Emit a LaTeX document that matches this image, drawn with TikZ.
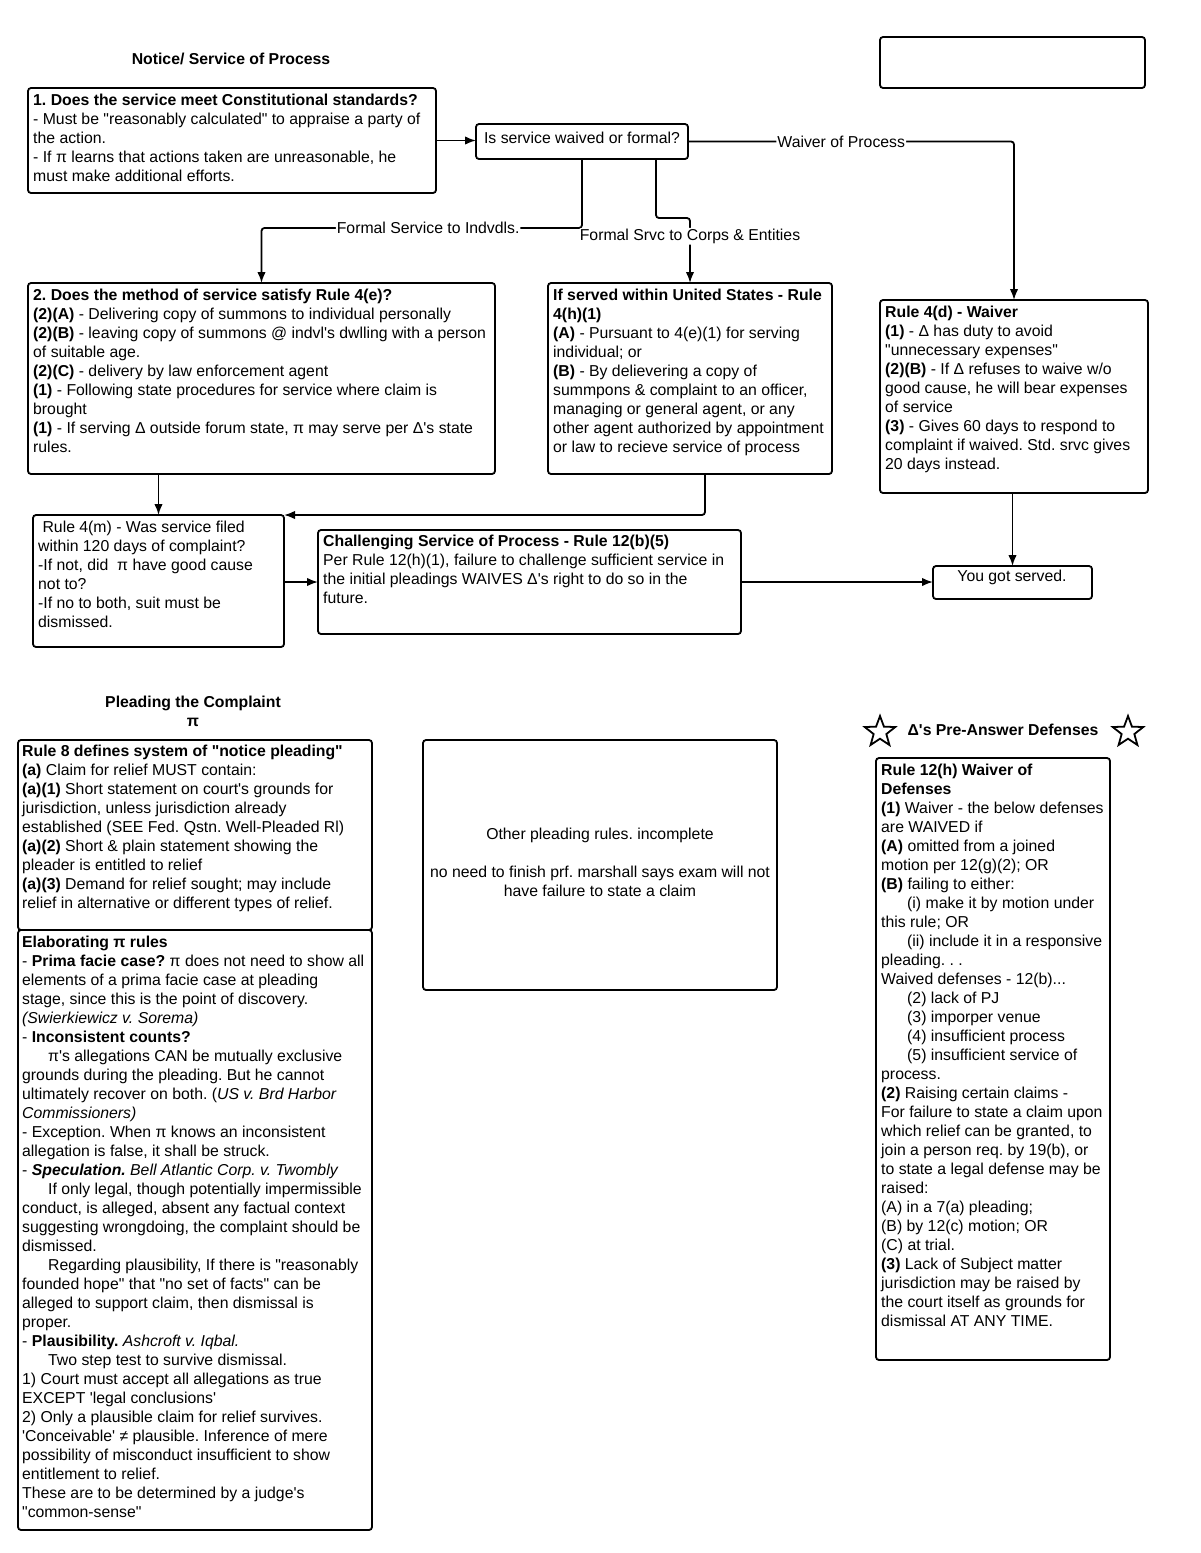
\documentclass[tikz,border=0pt]{standalone}
\usepackage{fontspec}
\setmainfont{Liberation Sans}[Ligatures=TeXOff]
\usetikzlibrary{arrows.meta,shapes.geometric}
\newcommand{\ind}{\hspace*{26pt}}
\newcommand{\fs}{\fontsize{15.8}{19}\selectfont\frenchspacing}
\begin{document}
\begin{tikzpicture}[x=1pt,y=-1pt,
  box/.style={draw,line width=1.8pt,rounded corners=3pt,anchor=north west,inner sep=0pt,outer sep=0pt},
  txt/.style={anchor=north west,align=left,inner sep=0pt,font=\fs},
  ctxt/.style={align=center,inner sep=0pt,font=\fs},
  lbl/.style={fill=white,inner sep=1pt,font=\fs},
  conn/.style={line width=1.8pt,rounded corners=3pt},
  arr/.style={conn,-{Latex[length=11pt,width=8.5pt]}},
  starshape/.style={star,star points=5,star point ratio=2.4,draw,line width=1.8pt,minimum size=32pt,inner sep=0pt}
]
\useasboundingbox (0,0) rectangle (1200,1553);

% ---------- titles ----------
\node[ctxt,font=\fs\bfseries] (t1) at (231,59) {Notice/ Service of Process};
\node[box,minimum width=265pt,minimum height=51pt] (empty) at (880,37) {};

% ---------- boxes ----------
\node[box,minimum width=408pt,minimum height=105pt] (b1) at (28,88) {};
\node[txt] at ([shift={(5,6)}]b1.north west) {\textbf{1. Does the service meet Constitutional standards?}\\
- Must be "reasonably calculated" to appraise a party of\\
the action.\\
- If π learns that actions taken are unreasonable, he\\
must make additional efforts.};

\node[box,minimum width=212pt,minimum height=35pt] (dec) at (476,124) {};
\node[ctxt] at ([yshift=4pt]dec.center) {Is service waived or formal?};

\node[box,minimum width=467pt,minimum height=191pt] (b2) at (28,283) {};
\node[txt] at ([shift={(5,6)}]b2.north west) {\textbf{2. Does the method of service satisfy Rule 4(e)?}\\
\textbf{(2)(A)} - Delivering copy of summons to individual personally\\
\textbf{(2)(B)} - leaving copy of summons @ indvl's dwlling with a person\\
of suitable age.\\
\textbf{(2)(C)} - delivery by law enforcement agent\\
\textbf{(1)} - Following state procedures for service where claim is\\
brought\\
\textbf{(1)} - If serving Δ outside forum state, π may serve per Δ's state\\
rules.};

\node[box,minimum width=284pt,minimum height=191pt] (b3) at (548,283) {};
\node[txt] at ([shift={(5,6)}]b3.north west) {\textbf{If served within United States - Rule}\\
\textbf{4(h)(1)}\\
\textbf{(A)} - Pursuant to 4(e)(1) for serving\\
individual; or\\
\textbf{(B)} - By delievering a copy of\\
summpons \& complaint to an officer,\\
managing or general agent, or any\\
other agent authorized by appointment\\
or law to recieve service of process};

\node[box,minimum width=268pt,minimum height=193pt] (b4) at (880,300) {};
\node[txt] at ([shift={(5,6)}]b4.north west) {\textbf{Rule 4(d) - Waiver}\\
\textbf{(1)} - Δ has duty to avoid\\
"unnecessary expenses"\\
\textbf{(2)(B)} - If Δ refuses to waive w/o\\
good cause, he will bear expenses\\
of service\\
\textbf{(3)} - Gives 60 days to respond to\\
complaint if waived. Std. srvc gives\\
20 days instead.};

\node[box,minimum width=251pt,minimum height=132pt] (b4m) at (33,515) {};
\node[txt] at ([shift={(5,6)}]b4m.north west) {\ Rule 4(m) - Was service filed\\
within 120 days of complaint?\\
-If not, did \ π have good cause\\
not to?\\
-If no to both, suit must be\\
dismissed.};

\node[box,minimum width=423pt,minimum height=104pt] (chal) at (318,530) {};
\node[txt] at ([shift={(5,5)}]chal.north west) {\textbf{Challenging Service of Process - Rule 12(b)(5)}\\
Per Rule 12(h)(1), failure to challenge sufficient service in\\
the initial pleadings WAIVES Δ's right to do so in the\\
future.};

\node[box,minimum width=159pt,minimum height=33pt] (served) at (933,566) {};
\node[ctxt] at (1012,577) {You got served.};

% ---------- connectors (top) ----------
\draw[arr] (b1.east) -- (b1.east -| dec.west);
\draw[arr] (dec.east) -- node[lbl,pos=0.47]{Waiver of Process} (dec.east -| b4.north) -- (b4.north);
\coordinate (j1) at (582,228);
\draw[arr] (dec.south) -- (dec.south |- j1) -- node[lbl,pos=0.48]{Formal Service to Indvdls.} (j1 -| b2.north) -- (b2.north);
\coordinate (j2) at (656,218);
\draw[arr] ([xshift=74pt]dec.south) -- (j2) -- (j2 -| b3.north) -- node[lbl,pos=0.28]{Formal Srvc to Corps \& Entities} (b3.north);
\draw[arr] (b2.south -| b4m.north) -- (b4m.north);
\draw[arr] ([xshift=15pt]b3.south) |- (b4m.north east);
\draw[arr] (b4m.east |- chal.west) -- (chal.west);
\draw[arr] (chal.east) -- (chal.east -| served.west);
\draw[arr] (b4.south -| served.north) -- (served.north);

% ---------- lower left ----------
\node[ctxt,font=\fs\bfseries] (t2) at (193,711) {Pleading the Complaint\\π};

\node[box,minimum width=354pt,minimum height=190pt] (r8) at (18,740) {};
\node[txt] at ([shift={(4,5)}]r8.north west) {\textbf{Rule 8 defines system of "notice pleading"}\\
\textbf{(a)} Claim for relief MUST contain:\\
\textbf{(a)(1)} Short statement on court's grounds for\\
jurisdiction, unless jurisdiction already\\
established (SEE Fed. Qstn. Well-Pleaded Rl)\\
\textbf{(a)(2)} Short \& plain statement showing the\\
pleader is entitled to relief\\
\textbf{(a)(3)} Demand for relief sought; may include\\
relief in alternative or different types of relief.};

\node[box,minimum width=354pt,minimum height=600pt] (elab) at (18,930) {};
\node[txt] at ([shift={(4,6)}]elab.north west) {\textbf{Elaborating π rules}\\
- \textbf{Prima facie case?} π does not need to show all\\
elements of a prima facie case at pleading\\
stage, since this is the point of discovery.\\
\textit{(Swierkiewicz v. Sorema)}\\
- \textbf{Inconsistent counts?}\\
\ind π's allegations CAN be mutually exclusive\\
grounds during the pleading. But he cannot\\
ultimately recover on both. (\textit{US v. Brd Harbor}\\
\textit{Commissioners)}\\
- Exception. When π knows an inconsistent\\
allegation is false, it shall be struck.\\
- \textbf{\textit{Speculation.}} \textit{Bell Atlantic Corp. v. Twombly}\\
\ind If only legal, though potentially impermissible\\
conduct, is alleged, absent any factual context\\
suggesting wrongdoing, the complaint should be\\
dismissed.\\
\ind Regarding plausibility, If there is "reasonably\\
founded hope" that "no set of facts" can be\\
alleged to support claim, then dismissal is\\
proper.\\
- \textbf{Plausibility.} \textit{Ashcroft v. Iqbal.}\\
\ind Two step test to survive dismissal.\\
1) Court must accept all allegations as true\\
EXCEPT 'legal conclusions'\\
2) Only a plausible claim for relief survives.\\
'Conceivable' ≠ plausible. Inference of mere\\
possibility of misconduct insufficient to show\\
entitlement to relief.\\
These are to be determined by a judge's\\
"common-sense"};

% ---------- lower middle ----------
\node[box,minimum width=354pt,minimum height=250pt] (other) at (423,740) {};
\node[ctxt] at (600,862) {Other pleading rules. incomplete\\[19pt]
no need to finish prf. marshall says exam will not\\
have failure to state a claim};

% ---------- lower right ----------
\node[starshape] (s1) at (880,732) {};
\node[starshape] (s2) at (1128,732) {};
\node[ctxt,font=\fs\bfseries] (t3) at (1003,730) {Δ's Pre-Answer Defenses};

\node[box,minimum width=234pt,minimum height=602pt] (r12) at (876,758) {};
\node[txt] at ([shift={(5,6)}]r12.north west) {\textbf{Rule 12(h) Waiver of}\\
\textbf{Defenses}\\
\textbf{(1)} Waiver - the below defenses\\
are WAIVED if\\
\textbf{(A)} omitted from a joined\\
motion per 12(g)(2); OR\\
\textbf{(B)} failing to either:\\
\ind (i) make it by motion under\\
this rule; OR\\
\ind (ii) include it in a responsive\\
pleading. . .\\
Waived defenses - 12(b)...\\
\ind (2) lack of PJ\\
\ind (3) imporper venue\\
\ind (4) insufficient process\\
\ind (5) insufficient service of\\
process.\\
\textbf{(2)} Raising certain claims -\\
For failure to state a claim upon\\
which relief can be granted, to\\
join a person req. by 19(b), or\\
to state a legal defense may be\\
raised:\\
(A) in a 7(a) pleading;\\
(B) by 12(c) motion; OR\\
(C) at trial.\\
\textbf{(3)} Lack of Subject matter\\
jurisdiction may be raised by\\
the court itself as grounds for\\
dismissal AT ANY TIME.};
\end{tikzpicture}
\end{document}
